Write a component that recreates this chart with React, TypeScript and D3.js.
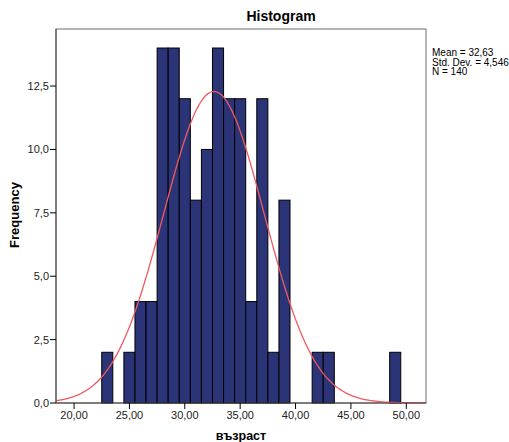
import React from "react";
import * as d3 from "d3";

const binCenters = [23, 25, 26, 27, 28, 29, 30, 31, 32, 33, 34, 35, 36, 37, 38, 39, 42, 43, 49];
const binCounts = [2, 2, 4, 4, 14, 14, 12, 8, 10, 14, 12, 12, 4, 12, 2, 8, 2, 2, 2];
const xTicks = [20, 25, 30, 35, 40, 45, 50];
const yTicks = [0, 2.5, 5, 7.5, 10, 12.5];
const statsLines = ["Mean = 32,63", "Std. Dev. = 4,546", "N = 140"];
const mean = 32.63;
const sd = 4.546;
const n = 140;
const binWidth = 1;

const W = 509, H = 442;
const L = 56, R = 426, T = 29, B = 403;

export default function App() {
  const x = d3.scaleLinear().domain([18.37, 51.78]).range([L, R]);
  const y = d3.scaleLinear().domain([0, 14.75]).range([B, T]);
  const fmt = (v: number) => v.toFixed(1).replace(".", ",");
  const fmtX = (v: number) => v.toFixed(2).replace(".", ",");
  const pts = d3.range(18.37, 51.78, 0.1).concat([51.78]);
  const pdf = (v: number) => (n * binWidth) / (sd * Math.sqrt(2 * Math.PI)) * Math.exp(-((v - mean) ** 2) / (2 * sd * sd));
  const line = d3.line<number>().x(d => x(d)).y(d => y(pdf(d))).curve(d3.curveBasis);
  const font = "Arial, 'Liberation Sans', sans-serif";
  return (
    <svg width={W} height={H} style={{ position: "absolute", left: 0, top: 0 }} fontFamily={font}>
      <rect x={0} y={0} width={W} height={H} fill="#fff" />
      <text x={281} y={21} textAnchor="middle" fontSize={14} fontWeight="bold" fill="#000">Histogram</text>
      <rect x={L} y={T} width={R - L} height={B - T} fill="#fff" stroke="#858585" strokeWidth={1.2} />
      {binCenters.map((c, i) => (
        <rect key={i} x={x(c - binWidth / 2)} y={y(binCounts[i])} width={x(c + binWidth / 2) - x(c - binWidth / 2)}
          height={y(0) - y(binCounts[i])} fill="#2a3477" stroke="#000" strokeWidth={1} />
      ))}
      <path d={line(pts) || ""} fill="none" stroke="#f05a5f" strokeWidth={1.3} />
      <line x1={L} x2={R} y1={B} y2={B} stroke="#444" strokeWidth={1} />
      <line x1={L} x2={L} y1={T} y2={B} stroke="#444" strokeWidth={1} />
      {yTicks.map(t => (
        <g key={t}>
          <line x1={L - 6} x2={L} y1={y(t)} y2={y(t)} stroke="#000" />
          <text x={L - 7} y={y(t) + 4} textAnchor="end" fontSize={11} fill="#222">{fmt(t)}</text>
        </g>
      ))}
      {xTicks.map(t => (
        <g key={t}>
          <line x1={x(t)} x2={x(t)} y1={B} y2={B + 6} stroke="#000" />
          <text x={x(t)} y={B + 16} textAnchor="middle" fontSize={11} fill="#222">{fmtX(t)}</text>
        </g>
      ))}
      <text x={241} y={440} textAnchor="middle" fontSize={12.5} fontWeight="bold" fill="#000">възраст</text>
      <text transform={`translate(19,215) rotate(-90)`} textAnchor="middle" fontSize={13} fontWeight="bold" fill="#000">Frequency</text>
      {statsLines.map((s, i) => (
        <text key={i} x={432} y={56 + i * 9.6} fontSize={10} fill="#000">{s}</text>
      ))}
    </svg>
  );
}
